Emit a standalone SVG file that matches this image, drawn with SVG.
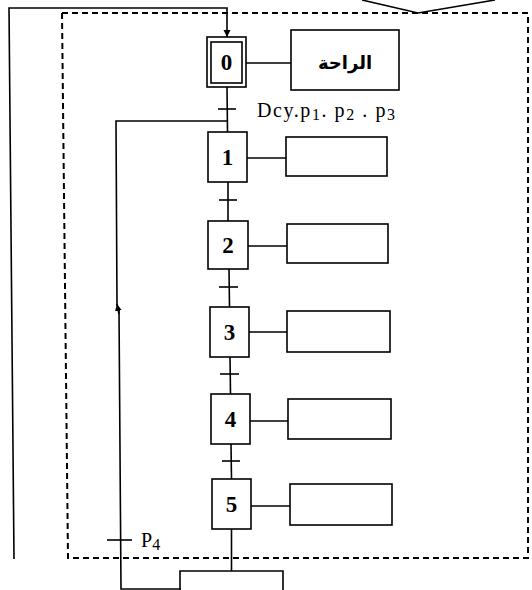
<svg xmlns="http://www.w3.org/2000/svg" width="532" height="590" viewBox="0 0 532 590">
<defs>
<style>
.ln{fill:none;stroke:#000;stroke-width:1.6}
.box{fill:#fff;stroke:#000;stroke-width:1.6}
.dash{fill:none;stroke:#000;stroke-width:2;stroke-dasharray:6 4}
.num{font-family:"Liberation Serif","Times New Roman",serif;font-weight:bold;font-size:23px;text-anchor:middle;fill:#000}
.lbl{font-family:"Liberation Serif","Times New Roman",serif;font-size:20px;fill:#000}
.ar{font-family:"DejaVu Sans","Noto Sans",sans-serif;font-weight:bold;font-size:18px;text-anchor:middle;fill:#000}
</style>
<marker id="arr" viewBox="0 0 10 10" refX="10" refY="5" markerWidth="7" markerHeight="10" markerUnits="userSpaceOnUse" orient="auto">
<path d="M0,0 L10,5 L0,10 Z" fill="#000"/>
</marker>
</defs>
<rect width="532" height="590" fill="#fff"/>

<g id="frame">
<path class="dash" d="M62,13 L528,13 L528,558 L68,558 Z"/>
<path class="ln" d="M362,0 L418,13 L495,0"/>
</g>

<g id="connectors">
<path class="ln" d="M14,559 L9,8 L227,8 L227,37" marker-end="url(#arr)"/>
<path class="ln" d="M181,589 L121,589 L119,310"/>
<path class="ln" d="M119,314 L117,304" marker-end="url(#arr)"/>
<path class="ln" d="M117,306 L116,121 L227,121"/>
<path class="ln" d="M227,87 L227.5,132"/>
<path class="ln" d="M228,182 L228,221"/>
<path class="ln" d="M229,269 L229.5,307"/>
<path class="ln" d="M230,357 L230.5,394"/>
<path class="ln" d="M231,444 L231.5,479"/>
<path class="ln" d="M231.5,529 L231.5,571"/>
<path class="ln" d="M246,63 L291,63"/>
<path class="ln" d="M247,158 L286,158"/>
<path class="ln" d="M248,246 L287,246"/>
<path class="ln" d="M249,332 L287,332"/>
<path class="ln" d="M250,421 L288,421"/>
<path class="ln" d="M251,506 L290,506"/>
</g>

<g id="transitions">
<path class="ln" d="M218,109 L236,109"/>
<path class="ln" d="M219,200 L237,200"/>
<path class="ln" d="M219,287 L238,287"/>
<path class="ln" d="M220,374 L239,374"/>
<path class="ln" d="M222,461 L240,461"/>
<path class="ln" d="M107,540 L132,540"/>
<text class="lbl" x="257" y="117" textLength="138" lengthAdjust="spacing">Dcy.p<tspan font-size="16" dy="3">1</tspan><tspan dy="-3">. p</tspan><tspan font-size="16" dy="3">2</tspan><tspan dy="-3"> . p</tspan><tspan font-size="16" dy="3">3</tspan></text>
<text class="lbl" x="141" y="547">P<tspan font-size="16" dy="3">4</tspan></text>
</g>

<g id="step0">
<rect class="box" x="207" y="37" width="39" height="50"/>
<rect class="box" x="211" y="42" width="31" height="41"/>
<text class="num" x="226.5" y="70">0</text>
</g>
<g id="action0">
<rect class="box" x="291" y="30" width="108" height="60"/>
<text class="ar" x="345" y="69">الراحة</text>
</g>

<g id="step1">
<rect class="box" x="208" y="132" width="39" height="50"/>
<text class="num" x="227.5" y="165">1</text>
</g>
<g id="action1"><rect class="box" x="286" y="137" width="101" height="39"/></g>

<g id="step2">
<rect class="box" x="208" y="221" width="40" height="48"/>
<text class="num" x="228" y="253">2</text>
</g>
<g id="action2"><rect class="box" x="287" y="224" width="101" height="39"/></g>

<g id="step3">
<rect class="box" x="210" y="307" width="39" height="50"/>
<text class="num" x="229.5" y="340">3</text>
</g>
<g id="action3"><rect class="box" x="287" y="311" width="103" height="41"/></g>

<g id="step4">
<rect class="box" x="211" y="394" width="39" height="50"/>
<text class="num" x="230.5" y="427">4</text>
</g>
<g id="action4"><rect class="box" x="288" y="399" width="103" height="40"/></g>

<g id="step5">
<rect class="box" x="212" y="479" width="39" height="50"/>
<text class="num" x="231.5" y="512">5</text>
</g>
<g id="action5"><rect class="box" x="290" y="484" width="102" height="41"/></g>

<g id="bottom">
<path class="ln" d="M180,590 L180,571 L283,571 L283,590"/>
</g>
</svg>
